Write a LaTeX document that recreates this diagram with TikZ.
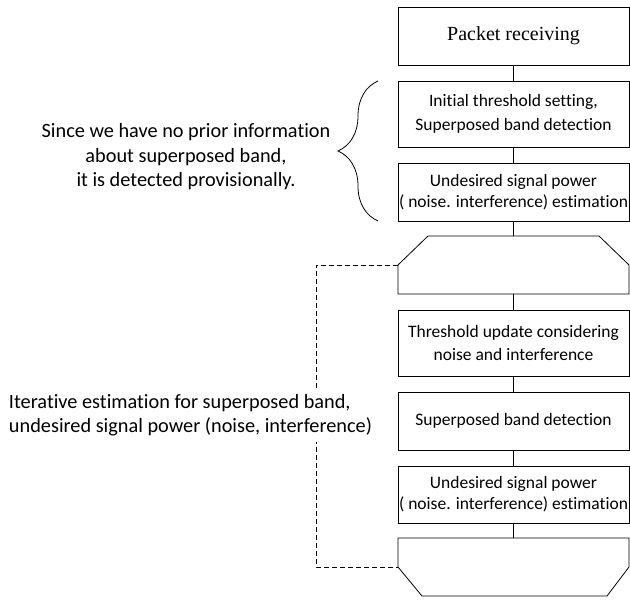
\documentclass[tikz,border=0pt]{standalone}
\usepackage{fontspec}
\setmainfont{Carlito}[Ligatures=NoCommon]
\newfontfamily\serifont{Liberation Serif}
\usetikzlibrary{positioning,calc,decorations.pathreplacing}
\tikzset{
    procbox/.style={
        rectangle,
        draw,
        line width=0.8pt,
        outer sep=0pt,
        minimum width=231pt,
        minimum height=58pt,
        inner sep=2pt,
        align=center,
        font=\fontsize{17.5}{21}\selectfont
    },
    loopbox/.style={
        rectangle,
        outer sep=0pt,
        minimum width=231pt,
        minimum height=58pt
    },
    link/.style={
        line width=0.8pt
    },
    loopline/.style={
        dash pattern=on 5pt off 3pt,
        line width=0.8pt
    },
    note/.style={
        font=\fontsize{20.3}{24.5}\selectfont
    },
    groupbrace/.style={
        decorate,
        decoration={brace, amplitude=40pt},
        line width=0.8pt
    }
}

\begin{document}
\begin{tikzpicture}[x=1pt, y=-1pt]
                \useasboundingbox (0,0) rectangle (630,601);
                \node[procbox, font=\serifont\fontsize{20}{24}\selectfont] (recv) at (513.5,36) {Packet receiving};
                \node[procbox, minimum height=66pt, below=16pt of recv, font=\fontsize{17.5}{24}\selectfont] (initth) {Initial threshold setting,\\Superposed band detection};
                \node[procbox, below=16pt of initth] (undes1) {Undesired signal power\\\makebox[0pt]{( noise. interference) estimation}};
                \node[loopbox, below=15pt of undes1] (looptop) {};
                \node[procbox, minimum height=66pt, below=16pt of looptop, font=\fontsize{17.5}{23}\selectfont] (thupd) {Threshold update considering\\noise and interference};
                \node[procbox, below=16pt of thupd] (sbd) {Superposed band detection};
                \node[procbox, minimum height=57pt, below=16pt of sbd] (undes2) {Undesired signal power\\\makebox[0pt]{( noise. interference) estimation}};
                \node[loopbox, below=15pt of undes2] (loopend) {};

                \draw[link] (looptop.west) -- ([xshift=30pt]looptop.north west) -- ([xshift=-30pt]looptop.north east) -- (looptop.east) -- (looptop.south east) -- (looptop.south west) -- cycle;
                \draw[link] (loopend.west) -- (loopend.north west) -- (loopend.north east) -- (loopend.east) -- ([xshift=-22pt]loopend.south east) -- ([xshift=24pt]loopend.south west) -- cycle;

                \draw[link] (recv) -- (initth);
                \draw[link] (initth) -- (undes1);
                \draw[link] (undes1) -- (looptop);
                \draw[link] (looptop) -- (thupd);
                \draw[link] (thupd) -- (sbd);
                \draw[link] (sbd) -- (undes2);
                \draw[link] (undes2) -- (loopend);

                \coordinate[left=82pt of looptop.west] (loopcorner);
                \draw[loopline] (looptop.west) -- (loopcorner) |- (loopend.west);

                \node[note, align=center] (priornote) at (186,157) {Since we have no prior information\\about superposed band,\\it is detected provisionally.};
                \draw[groupbrace] ([xshift=-20pt]undes1.south west) -- ([xshift=-20pt]initth.north west);

                \node[note, align=left, fill=white, inner sep=6pt] (iternote) at (190.5,415) {Iterative estimation for superposed band,\\undesired signal power (noise, interference)};
\end{tikzpicture}
\end{document}
